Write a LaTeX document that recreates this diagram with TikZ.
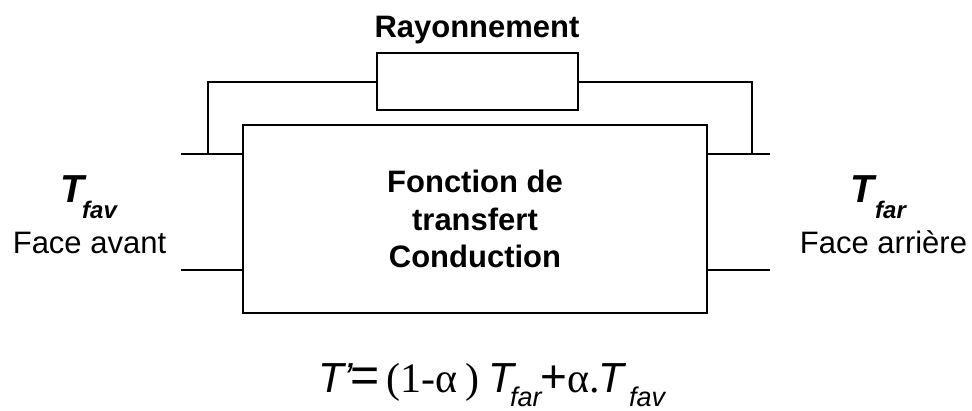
\documentclass[tikz,border=0pt]{standalone}
\usepackage{fontspec}
\setmainfont{Liberation Sans}
\newfontfamily\tms{Liberation Serif}
\newcommand\sz[1]{\fontsize{#1}{#1}\selectfont}
\tikzset{
  wire/.style={line width=2pt},
  blk/.style={draw, line width=2pt, rectangle, inner sep=0pt},
  lbl/.style={inner sep=0pt, anchor=base},
  piece/.style={inner sep=0pt, anchor=base west},
}
\begin{document}
\begin{tikzpicture}[x=1pt,y=-1pt]
\useasboundingbox (0,0) rectangle (972,410);
% main block
\node[blk, minimum width=464pt, minimum height=188pt, align=center,
      font=\bfseries\fontsize{31}{37.5}\selectfont] (main) at (475,219)
  {Fonction de\\transfert\\Conduction};
% radiation block
\node[blk, minimum width=201pt, minimum height=57pt] (ray) at (477.5,81.5) {};
\node[lbl, font=\bfseries\sz{31}] (raylbl) at (477,37) {Rayonnement};
% lead coordinates
\coordinate (lt) at (181,154);
\coordinate (lb) at (181,270);
\coordinate (rt) at (770,154);
\coordinate (rb) at (770,270);
\coordinate (jl) at (208,154);
\coordinate (jr) at (752,154);
\draw[wire] (lt) -- (lt -| main.west);
\draw[wire] (lb) -- (lb -| main.west);
\draw[wire] (rt) -- (rt -| main.east);
\draw[wire] (rb) -- (rb -| main.east);
\draw[wire] (jl) |- (ray.west);
\draw[wire] (jr) |- (ray.east);
% labels left
\node[piece, font=\bfseries\itshape\sz{39}] (tfav) at (60,202) {T};
\node[piece, font=\bfseries\itshape\sz{24}] (sfav) at (82,218) {fav};
\node[lbl, font=\sz{31}] (fav) at (89.5,253) {Face avant};
% labels right
\node[piece, font=\bfseries\itshape\sz{39}] (tfar) at (850,202) {T};
\node[piece, font=\bfseries\itshape\sz{24}] (sfar) at (875,218) {far};
\node[lbl, font=\sz{31}] (far) at (883.5,253) {Face arrière};
% formula
\node[piece, font=\itshape\sz{42}] (eq1) at (318,392) {T’};
\node[piece, font=\sz{50}] (eq2) at (350,392) {=};
\node[piece, font=\tms\sz{42}] (eq3) at (386,392) {(1-α\hspace{0.2em})};
\node[piece, font=\itshape\sz{42}] (eq4) at (488,392) {T};
\node[piece, font=\itshape\sz{27}] (eq5) at (510,406) {far};
\node[piece, font=\sz{46}] (eq6) at (540,392) {+};
\node[piece, font=\tms\sz{42}] (eq7) at (567,392) {α.};
\node[piece, font=\itshape\sz{42}] (eq8) at (598,392) {T};
\node[piece, font=\itshape\sz{27}] (eq9) at (629,406) {fav};
\end{tikzpicture}
\end{document}
